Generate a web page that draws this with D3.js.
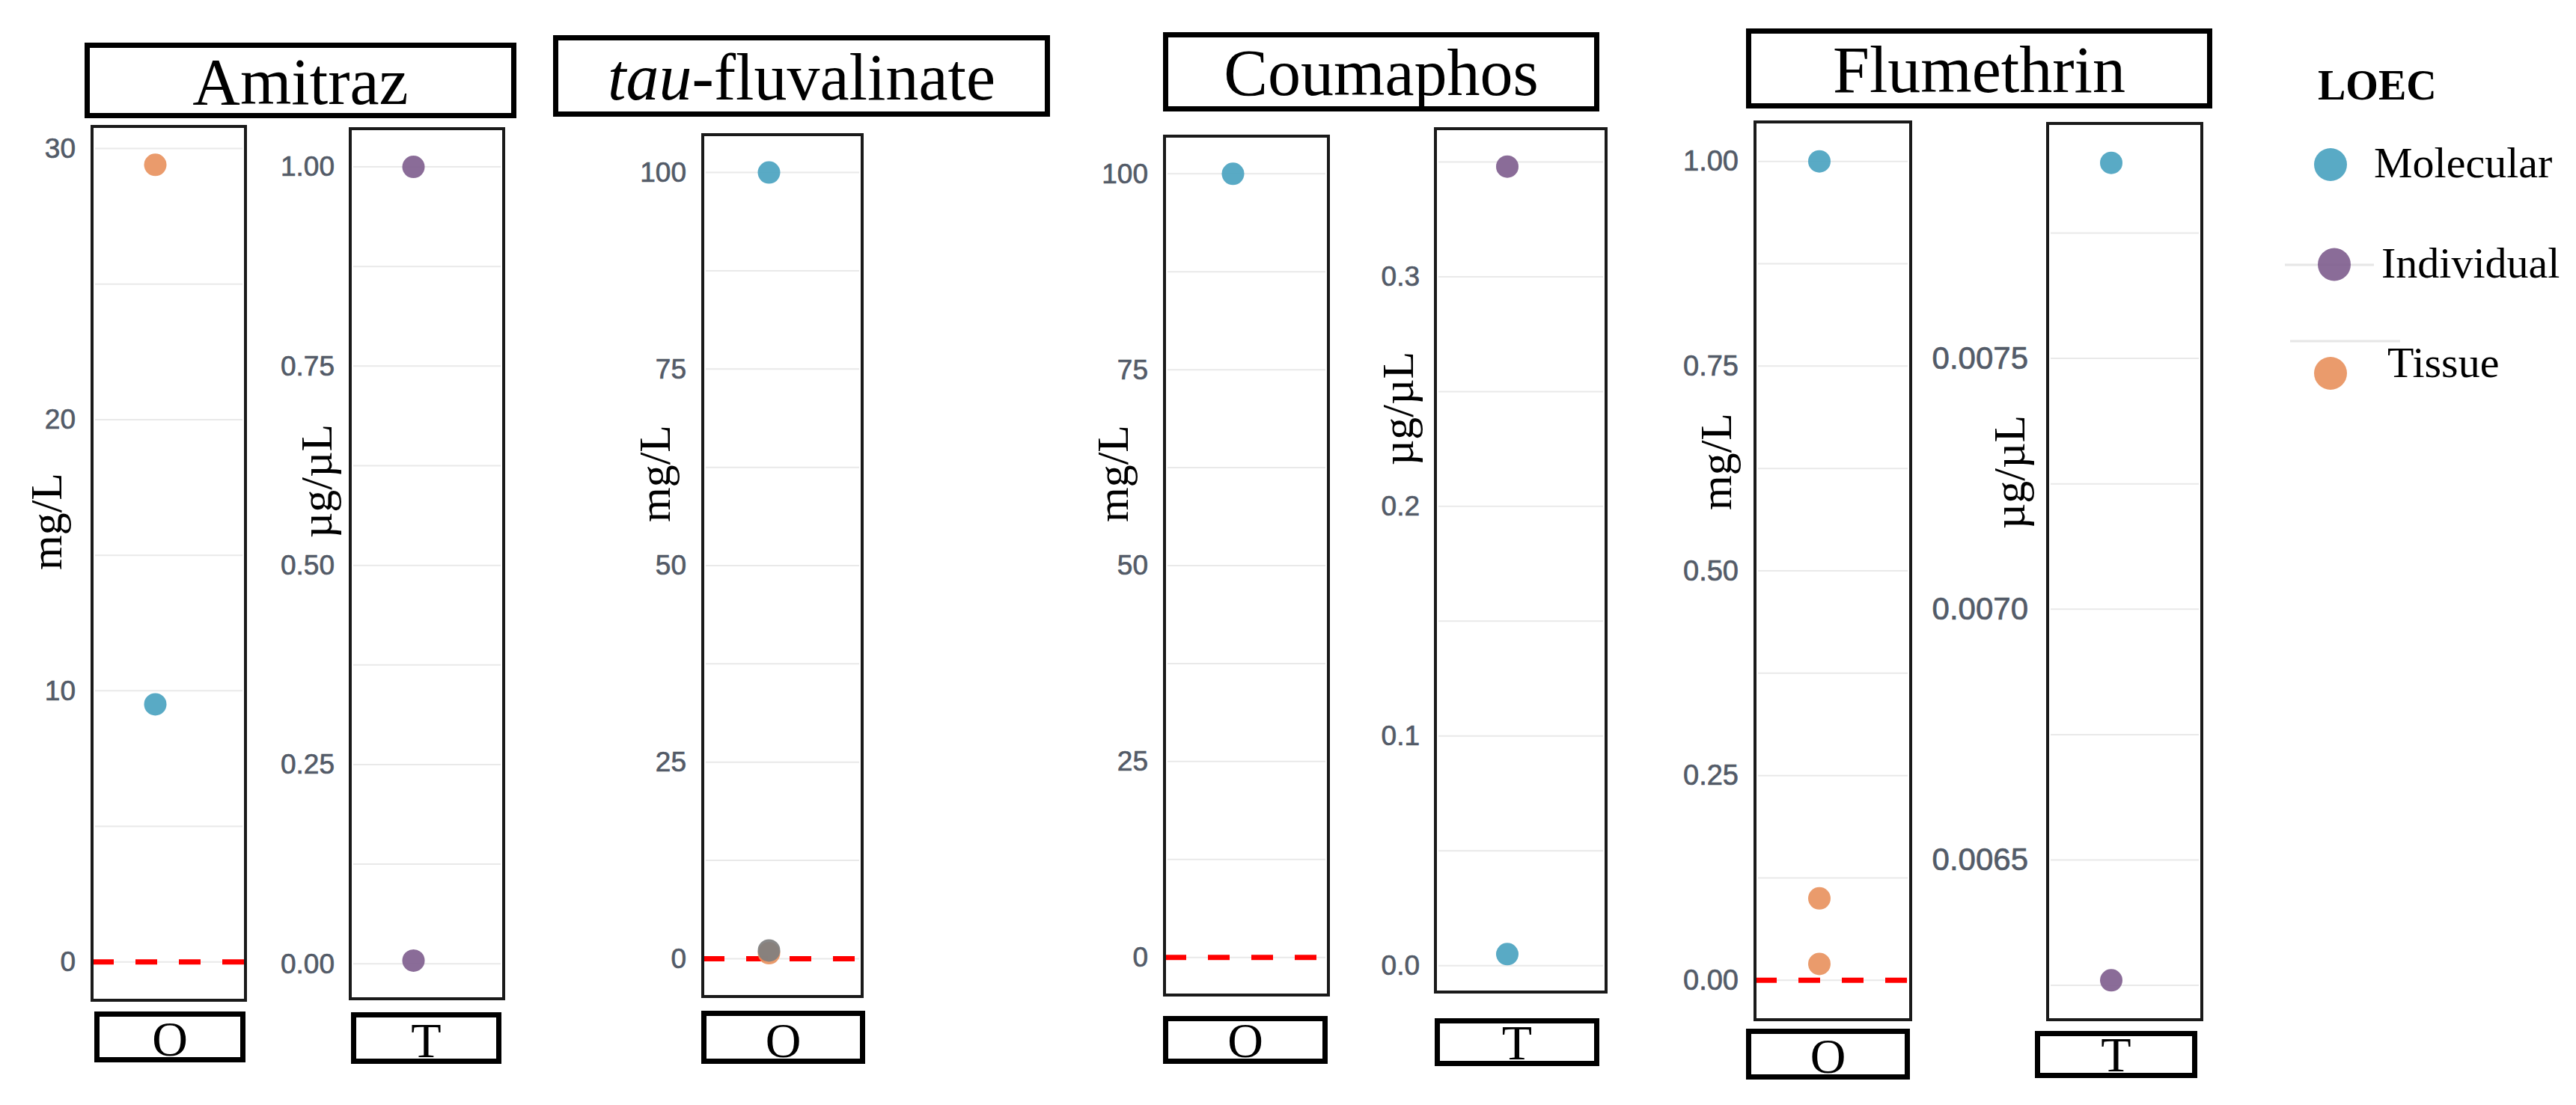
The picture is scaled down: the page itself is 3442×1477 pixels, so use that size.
<!DOCTYPE html>
<html>
<head>
<meta charset="utf-8">
<script src="https://cdn.jsdelivr.net/npm/d3@7"></script>
<style>
  body { margin: 0; background: #fff; }
  svg { display: block; }
</style>
</head>
<body>
<svg id="chart" width="3442" height="1477"></svg>
<script>
// LOEC levels (legend order) and their colours
const levels = ["Molecular", "Individual", "Tissue"];
const levelColors = ["#4ba3c0", "#80608f", "#e8925f"];
const naColor = "#7f7f7f"; // point with no level -> grey

const drugs = ["Amitraz", "tau-fluvalinate", "Coumaphos", "Flumethrin"];

// points per panel (route O = oral, T = topical)
const amitrazOLevels = ["Tissue", "Molecular"];
const amitrazOValues = [29.4, 9.5];
const amitrazTLevels = ["Individual", "Individual"];
const amitrazTValues = [1.0, 0.004];
const tauOLevels = ["Tissue", null, "Molecular"];
const tauOValues = [0.7, 1.05, 100];
const coumaphosOLevels = ["Molecular"];
const coumaphosOValues = [100];
const coumaphosTLevels = ["Individual", "Molecular"];
const coumaphosTValues = [0.348, 0.005];
const flumethrinOLevels = ["Molecular", "Tissue", "Tissue"];
const flumethrinOValues = [1.0, 0.1, 0.02];
const flumethrinTLevels = ["Molecular", "Individual"];
const flumethrinTValues = [0.00789, 0.00626];

// y ticks
const amitrazOTicks = [0, 10, 20, 30];
const amitrazTTicks = [0, 0.25, 0.5, 0.75, 1];
const tauOTicks = [0, 25, 50, 75, 100];
const coumaphosOTicks = [0, 25, 50, 75, 100];
const coumaphosTTicks = [0, 0.1, 0.2, 0.3];
const flumethrinOTicks = [0, 0.25, 0.5, 0.75, 1];
const flumethrinTTicks = [0.0065, 0.007, 0.0075];

const refLine = 0; // red dashed line, oral panels only

// ---- layout (pixel boxes: x0, y0, x1, y1) ----
const titleBoxes = [[113, 57, 690, 158], [739, 47, 1403, 156], [1554, 43, 2137, 149], [2333, 38, 2956, 145]];

const panels = [
  { levels: amitrazOLevels, values: amitrazOValues, ticks: amitrazOTicks, route: "O", fmt: "d", unit: "mg/L",
    box: [121, 167, 330, 1339], strip: [126, 1352, 328, 1420], label: [62, 697], tickFont: 37, gap: 20 },
  { levels: amitrazTLevels, values: amitrazTValues, ticks: amitrazTTicks, route: "T", fmt: ".2f", unit: "µg/µL",
    box: [466, 170, 675, 1337], strip: [469, 1353, 670, 1422], label: [423, 643], tickFont: 37, gap: 19 },
  { levels: tauOLevels, values: tauOValues, ticks: tauOTicks, route: "O", fmt: "d", unit: "mg/L",
    box: [937, 178, 1154, 1334], strip: [937, 1351, 1156, 1422], label: [875, 633], tickFont: 37, gap: 20 },
  { levels: coumaphosOLevels, values: coumaphosOValues, ticks: coumaphosOTicks, route: "O", fmt: "d", unit: "mg/L",
    box: [1554, 180, 1777, 1332], strip: [1554, 1358, 1774, 1422], label: [1487, 633], tickFont: 37, gap: 20 },
  { levels: coumaphosTLevels, values: coumaphosTValues, ticks: coumaphosTTicks, route: "T", fmt: ".1f", unit: "µg/µL",
    box: [1916, 170, 2148, 1328], strip: [1917, 1361, 2137, 1425], label: [1868, 546], tickFont: 37, gap: 19 },
  { levels: flumethrinOLevels, values: flumethrinOValues, ticks: flumethrinOTicks, route: "O", fmt: ".2f", unit: "mg/L",
    box: [2343, 161, 2555, 1365], strip: [2333, 1375, 2552, 1443], label: [2293, 617], tickFont: 38, gap: 20 },
  { levels: flumethrinTLevels, values: flumethrinTValues, ticks: flumethrinTTicks, route: "T", fmt: ".4f", unit: "µg/µL",
    box: [2734, 163, 2944, 1365], strip: [2719, 1378, 2936, 1441], label: [2685, 631], tickFont: 42, gap: 24 }
];

const serif = "'Liberation Serif', 'Times New Roman', serif";
const sans = "'Liberation Sans', Arial, sans-serif";
const tickColor = "#535b68";

const svg = d3.select("#chart");
svg.append("rect").attr("width", 3442).attr("height", 1477).attr("fill", "#fff");

const color = d3.scaleOrdinal().domain(levels).range(levelColors).unknown(naColor);

// facet titles
titleBoxes.forEach((b, i) => {
  const g = svg.append("g");
  g.append("rect")
    .attr("x", b[0] + 3.5).attr("y", b[1] + 3.5)
    .attr("width", b[2] - b[0] - 7).attr("height", b[3] - b[1] - 7)
    .attr("fill", "#fff").attr("stroke", "#000").attr("stroke-width", 7);
  const t = g.append("text")
    .attr("x", (b[0] + b[2]) / 2).attr("y", (b[1] + b[3]) / 2 + 31)
    .attr("text-anchor", "middle")
    .attr("font-family", serif).attr("font-size", 88).attr("fill", "#000");
  if (drugs[i].startsWith("tau-")) {
    t.append("tspan").attr("font-style", "italic").text("tau");
    t.append("tspan").text(drugs[i].slice(3));
  } else {
    t.text(drugs[i]);
  }
});

panels.forEach(p => {
  const [x0, y0, x1, y1] = p.box;
  const ext = d3.extent(p.route === "O" ? p.values.concat([refLine]) : p.values);
  const pad = (ext[1] - ext[0]) * 0.05;
  const y = d3.scaleLinear().domain([ext[0] - pad, ext[1] + pad]).range([y1, y0]);
  const x = d3.scalePoint().domain([p.route]).range([x0, x1 - 36]).padding(0.5);

  const g = svg.append("g");

  // major + minor grid
  const step = p.ticks[1] - p.ticks[0];
  const minor = [p.ticks[0] - step / 2].concat(p.ticks.map(t => t + step / 2))
    .filter(v => v > y.domain()[0] && v < y.domain()[1]);
  g.selectAll("line.grid")
    .data(p.ticks.concat(minor))
    .join("line")
    .attr("class", "grid")
    .attr("x1", x0 + 6).attr("x2", x1 - 6)
    .attr("y1", d => y(d)).attr("y2", d => y(d))
    .attr("stroke", "#e9e9e9").attr("stroke-width", 2);

  // tick labels
  const axis = d3.axisLeft(y)
    .tickValues(p.ticks)
    .tickFormat(d3.format(p.fmt))
    .tickSize(0)
    .tickPadding(p.gap);
  const ax = g.append("g").attr("transform", `translate(${x0},0)`).call(axis);
  ax.select(".domain").remove();
  ax.selectAll("text")
    .style("font-family", sans)
    .style("font-size", p.tickFont + "px")
    .attr("fill", tickColor)
    .attr("stroke", tickColor)
    .attr("stroke-width", 0.7);

  // y axis title
  g.append("text")
    .attr("transform", `translate(${p.label[0]},${p.label[1]}) rotate(-90)`)
    .attr("text-anchor", "middle")
    .attr("dominant-baseline", "central")
    .attr("font-family", serif).attr("font-size", 60).attr("fill", "#000")
    .text(p.unit);

  // red reference line
  if (p.route === "O") {
    g.append("line")
      .attr("x1", x0 + 2).attr("x2", x1 - 2)
      .attr("y1", y(refLine)).attr("y2", y(refLine))
      .attr("stroke", "#ff0000").attr("stroke-width", 7)
      .attr("stroke-dasharray", "29 29");
  }

  // points
  g.selectAll("circle.pt")
    .data(p.values.map((v, i) => ({ value: v, level: p.levels[i] })))
    .join("circle")
    .attr("class", "pt")
    .attr("cx", x(p.route))
    .attr("cy", d => y(d.value))
    .attr("r", 15)
    .attr("fill", d => color(d.level))
    .attr("fill-opacity", 0.92);

  // panel border
  g.append("rect")
    .attr("x", x0 + 2).attr("y", y0 + 2)
    .attr("width", x1 - x0 - 4).attr("height", y1 - y0 - 4)
    .attr("fill", "none").attr("stroke", "#1a1a1a").attr("stroke-width", 4);

  // strip below
  const s = p.strip;
  g.append("rect")
    .attr("x", s[0] + 3.5).attr("y", s[1] + 3.5)
    .attr("width", s[2] - s[0] - 7).attr("height", s[3] - s[1] - 7)
    .attr("fill", "#fff").attr("stroke", "#000").attr("stroke-width", 7);
  g.append("text")
    .attr("x", (s[0] + s[2]) / 2).attr("y", s[3] - 9)
    .attr("text-anchor", "middle")
    .attr("font-family", serif).attr("font-size", 66).attr("fill", "#000")
    .text(p.route);
});

// legend
const legend = svg.append("g");
legend.append("text")
  .attr("x", 3097).attr("y", 133)
  .attr("font-family", serif).attr("font-weight", "bold").attr("font-size", 56)
  .text("LOEC");

// faint key lines left over in the legend
legend.append("line").attr("x1", 3053).attr("x2", 3172).attr("y1", 354).attr("y2", 354)
  .attr("stroke", "#e6e6e6").attr("stroke-width", 3);
legend.append("line").attr("x1", 3060).attr("x2", 3207).attr("y1", 456).attr("y2", 456)
  .attr("stroke", "#e6e6e6").attr("stroke-width", 3);

const ly = d3.scalePoint().domain(levels).range([237, 504]);
const items = legend.selectAll("g.item").data(levels).join("g").attr("class", "item");
items.append("circle")
  .attr("cx", (d, i) => i === 1 ? 3119 : 3114)
  .attr("cy", (d, i) => ly(d) - (i === 2 ? 5 : 17))
  .attr("r", 22)
  .attr("fill", d => color(d))
  .attr("fill-opacity", 0.92);
items.append("text")
  .attr("x", (d, i) => [3172, 3182, 3190][i])
  .attr("y", d => ly(d))
  .attr("font-family", serif).attr("font-size", 58)
  .text(d => d);
</script>
</body>
</html>
